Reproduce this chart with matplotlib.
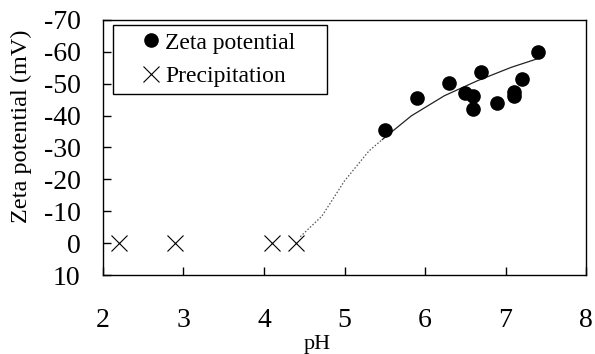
import numpy as np
import matplotlib
matplotlib.use("Agg")
import matplotlib.pyplot as plt

plt.rcParams['font.family'] = ['Liberation Serif', 'DejaVu Serif']
plt.rcParams['axes.unicode_minus'] = False

# zeta potential measurements
ph_zeta = [5.5, 5.9, 6.3, 6.5, 6.6, 6.6, 6.7, 6.9, 7.1, 7.1, 7.2, 7.4]
zeta = [-35.5, -45.6, -50.3, -47.0, -46.0, -41.9, -53.6, -44.0, -47.4, -46.1, -51.6, -60.0]

# precipitation observed
ph_precip = [2.2, 2.9, 4.1, 4.4]
zeta_precip = [0, 0, 0, 0]

# fitted curve, extrapolated part (dotted) and measured range (solid)
ph_fit_dot = [4.45, 4.72, 5.0, 5.3, 5.47]
zeta_fit_dot = [-2.0, -8.5, -19.5, -28.8, -32.5]
ph_fit = [5.47, 5.83, 6.24, 6.65, 7.07, 7.42]
zeta_fit = [-32.5, -39.9, -46.2, -50.9, -55.1, -58.0]

fig = plt.figure(figsize=(5.95, 3.54), dpi=100)
ax = fig.add_axes([0.173, 0.223, 0.812, 0.721])

ax.plot(ph_fit_dot, zeta_fit_dot, color='#555555', linestyle=(0, (1.2, 1.5)), linewidth=0.9)
ax.plot(ph_fit, zeta_fit, color='#222222', linestyle='-', linewidth=0.9)
ax.plot(ph_zeta, zeta, 'o', color='black', markersize=9.5, linestyle='none', label='Zeta potential')
ax.plot(ph_precip, zeta_precip, 'x', color='black', markersize=12, markeredgewidth=0.8,
        linestyle='none', label='Precipitation')

ax.set_xlim(2, 8)
ax.set_ylim(10, -70)
ax.set_xticks(range(2, 9))
ax.set_yticks(range(-70, 11, 10))
ax.tick_params(direction='in', length=6, width=1, labelsize=20)
ax.tick_params(axis='x', pad=24)
ax.tick_params(axis='y', pad=16)
for s in ax.spines.values():
    s.set_linewidth(1)

ax.set_xlabel('pH', fontsize=16)
ax.xaxis.set_label_coords(0.444, -0.235)
ax.set_ylabel('Zeta potential (mV)', fontsize=17.5)
ax.yaxis.set_label_coords(-0.146, 0.584)

leg = ax.legend(loc='upper left', bbox_to_anchor=(0.021, 0.98, 0.443, 0.0), mode='expand',
                borderaxespad=0, fontsize=17,
                frameon=True, fancybox=False, edgecolor='black', framealpha=1,
                handletextpad=-0.7, handlelength=2.6, borderpad=0.3, labelspacing=0.5)
leg.get_frame().set_linewidth(1)

fig.savefig("out.png", dpi=100)
